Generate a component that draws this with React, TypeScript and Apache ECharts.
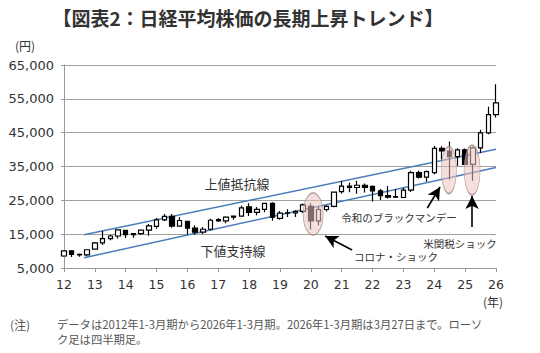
import React, { useEffect, useRef } from "react";
import * as echarts from "echarts";

// ---- Data ----
const years = ["2012","2013","2014","2015","2016","2017","2018","2019","2020","2021","2022","2023","2024","2025","2026"];
const categories: string[] = [];
years.forEach((y) => {
  ["1-3", "4-6", "7-9", "10-12"].forEach((q) => {
    if (y === "2026" && q !== "1-3") return;
    categories.push(`${y} ${q}`);
  });
});

const openVals = [
  8549, 10083, 9007, 8870,
  10604, 12398, 13677, 14456,
  16147, 14828, 15162, 16174,
  17325, 19207, 20236, 17388,
  18818, 16759, 15576, 16450,
  19298, 18909, 20033, 20356,
  23073, 21454, 22305, 24120,
  19655, 21206, 21276, 21756,
  23205, 18917, 22288, 23185,
  27575, 29179, 28792, 29452,
  29098, 27821, 26393, 25937,
  25834, 28041, 33189, 31857,
  33193, 40369, 39583, 37919,
  39894, 35617, 40487, 44932,
  50339,
];
const closeVals = [
  10083, 9007, 8870, 10395,
  12398, 13677, 14456, 16291,
  14828, 15162, 16174, 17451,
  19207, 20236, 17388, 19034,
  16759, 15576, 16450, 19114,
  18909, 20033, 20356, 22765,
  21454, 22305, 24120, 20015,
  21206, 21276, 21756, 23657,
  18917, 22288, 23185, 27444,
  29179, 28792, 29452, 28792,
  27821, 26393, 25937, 26095,
  28041, 33189, 31857, 33464,
  40369, 39583, 37919, 39894,
  35617, 40487, 44932, 50339,
  53800,
];
const lowVals = [
  8349, 8238, 8328, 8488,
  10398, 11805, 13188, 13748,
  13885, 13910, 14753, 14529,
  16592, 18924, 16901, 17388,
  14866, 14864, 14952, 16111,
  18650, 18224, 19239, 20356,
  20347, 20617, 21462, 18949,
  19241, 20110, 20110, 21276,
  16358, 17646, 21710, 22948,
  27002, 27385, 26954, 27293,
  24681, 25110, 25520, 25716,
  25661, 27427, 31450, 30487,
  32693, 37068, 31156, 35247,
  35617, 30792, 39000, 44500,
  49500,
];
const highVals = [
  10255, 10190, 9288, 10433,
  12650, 15942, 14817, 16320,
  16164, 15376, 16375, 18030,
  19778, 20953, 20946, 20012,
  18951, 17613, 17100, 19592,
  19668, 20318, 20481, 23382,
  24129, 23050, 24286, 24448,
  21860, 22362, 22098, 24091,
  24115, 23178, 23559, 27602,
  30714, 30208, 30795, 29960,
  29388, 28338, 29222, 28383,
  28734, 33772, 33753, 33853,
  41087, 40979, 42426, 40398,
  40288, 40852, 45852, 52636,
  59300,
];

const xTickLabels = ["12","13","14","15","16","17","18","19","20","21","22","23","24","25","26"];
const yTickLabels = ["5,000","15,000","25,000","35,000","45,000","55,000","65,000"];

// trend lines: [quarter index, yen]
const upperTrend = [[2.6, 14850], [56, 40070]];
const lowerTrend = [[2.6, 8030], [56, 34730]];

// annotation ellipse centres: [quarter index, yen]
const ellipseCenters = [[32.3, 20960], [49.9, 33960], [52.9, 33960]];
const ellipseSizes = [[20, 42], [15, 47], [16, 50]];

// arrows: [tail, head] in [quarter index, yen]
const arrows = [
  [[37.35, 10315], [33.85, 14450]],
  [[47.1, 22730], [48.75, 28940]],
  [[52.9, 17110], [52.9, 26280]],
];

const JP = "'Noto Sans CJK JP', 'Noto Sans', sans-serif";
const NUM = "'DejaVu Sans', sans-serif";

export default function App() {
  const ref = useRef<HTMLDivElement>(null);
  useEffect(() => {
    if (!ref.current) return;
    const chart = echarts.init(ref.current, undefined, { renderer: "svg" });
    const candleData = categories.map((_, i) => [openVals[i], closeVals[i], lowVals[i], highVals[i]]);
    const txt = (x: number, y: number, text: string, fontSize: number, extra: any = {}) => ({
      type: "text",
      x,
      y,
      style: {
        text,
        fontSize,
        fill: "#333",
        fontFamily: JP,
        textAlign: "center",
        textVerticalAlign: "middle",
        ...extra,
      },
    });
    const option: any = {
      animation: false,
      backgroundColor: "#ffffff",
      grid: { left: 64, right: 44, top: 65, bottom: 85 },
      xAxis: [
        {
          type: "category",
          data: categories,
          boundaryGap: false,
          axisLine: { show: true, lineStyle: { color: "#999", width: 1 } },
          axisTick: { show: true, interval: 3, length: 4, lineStyle: { color: "#999" } },
          axisLabel: {
            interval: 3,
            formatter: (_v: string, idx: number) => (idx % 4 === 0 ? xTickLabels[idx / 4] : ""),
            color: "#333",
            fontSize: 12.5,
            fontFamily: NUM,
            margin: 10,
          },
          splitLine: { show: false },
        },
        { type: "value", min: 0, max: 56, show: false },
      ],
      yAxis: [
        { type: "value", min: 5000, max: 65000, show: false },
        {
          type: "value",
          min: 0,
          max: 60000,
          interval: 10000,
          position: "left",
          axisLine: { show: true, lineStyle: { color: "#999", width: 1 } },
          axisTick: { show: true, length: 3, lineStyle: { color: "#999" } },
          splitLine: { show: true, lineStyle: { color: "#a0a0a0", width: 1 } },
          axisLabel: {
            formatter: (v: number) => yTickLabels[Math.round(v / 10000)],
            color: "#333",
            fontSize: 13,
            fontFamily: NUM,
            margin: 10,
          },
        },
      ],
      series: [
        {
          type: "line",
          xAxisIndex: 1,
          yAxisIndex: 0,
          data: upperTrend,
          symbol: "none",
          lineStyle: { color: "#4a7ebb", width: 1.5 },
          z: 2,
        },
        {
          type: "line",
          xAxisIndex: 1,
          yAxisIndex: 0,
          data: lowerTrend,
          symbol: "none",
          lineStyle: { color: "#4a7ebb", width: 1.5 },
          z: 2,
        },
        {
          type: "candlestick",
          xAxisIndex: 0,
          yAxisIndex: 0,
          data: candleData,
          barWidth: 5,
          clip: false,
          itemStyle: {
            color: "#ffffff",
            color0: "#000000",
            borderColor: "#000000",
            borderColor0: "#000000",
            borderWidth: 1.2,
          },
          z: 3,
        },
        {
          type: "scatter",
          xAxisIndex: 1,
          yAxisIndex: 0,
          data: ellipseCenters.map((c, i) => ({ value: c, symbolSize: ellipseSizes[i] })),
          symbol: "circle",
          itemStyle: {
            color: "rgba(236, 196, 190, 0.68)",
            borderColor: "#a08a86",
            borderWidth: 1,
          },
          silent: true,
          z: 5,
          markLine: {
            silent: true,
            symbol: ["none", "arrow"],
            symbolSize: [10, 13],
            label: { show: false },
            lineStyle: { color: "#000", width: 1.6, type: "solid" },
            data: arrows.map((a) => [{ coord: a[0] }, { coord: a[1] }]),
          },
        },
      ],
      graphic: [
        txt(248, 17, "【図表2：日経平均株価の長期上昇トレンド】", 19, { fontWeight: "bold", fill: "#333" }),
        txt(25, 45, "(円)", 12),
        txt(493, 301, "(年)", 12),
        txt(237, 183, "上値抵抗線", 13),
        txt(233, 250, "下値支持線", 13),
        txt(399, 217, "令和のブラックマンデー", 10.5),
        txt(396, 256, "コロナ・ショック", 10.5),
        txt(460, 243, "米関税ショック", 10.5),
        txt(10, 324, "(注)", 12, { textAlign: "left", fill: "#555" }),
        txt(57, 324, "データは2012年1-3月期から2026年1-3月期。2026年1-3月期は3月27日まで。ローソ", 11.3, { textAlign: "left", fill: "#555" }),
        txt(57, 339, "ク足は四半期足。", 11.3, { textAlign: "left", fill: "#555" }),
      ],
    };
    chart.setOption(option);
    return () => chart.dispose();
  }, []);
  return <div ref={ref} style={{ position: "fixed", left: 0, top: 0, width: 540, height: 353 }} />;
}
